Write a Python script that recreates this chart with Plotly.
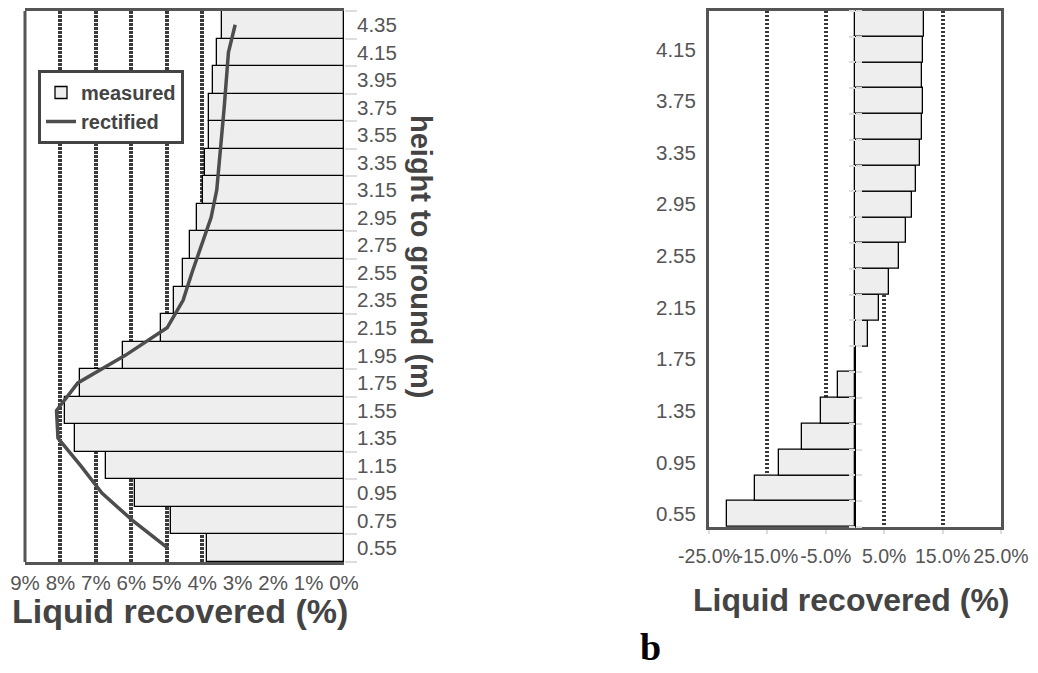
import plotly.graph_objects as go

# ---------------- data ----------------
heights = ["0.55", "0.75", "0.95", "1.15", "1.35", "1.55", "1.75", "1.95", "2.15", "2.35",
           "2.55", "2.75", "2.95", "3.15", "3.35", "3.55", "3.75", "3.95", "4.15", "4.35"]
measured = [3.87, 4.87, 5.91, 6.72, 7.59, 7.88, 7.44, 6.23, 5.17, 4.79,
            4.55, 4.35, 4.15, 3.98, 3.92, 3.82, 3.80, 3.70, 3.59, 3.44]
rectified = [4.97, 5.96, 6.83, 7.43, 8.07, 8.11, 7.51, 6.17, 4.99, 4.54,
             4.29, 4.01, 3.75, 3.59, 3.51, 3.45, 3.38, 3.32, 3.26, 3.07]
deviation = [-21.95, -17.2, -13.0, -9.16, -5.78, -2.86, 0.0, 2.29, 4.17, 5.9,
             7.5, 8.7, 9.8, 10.5, 11.1, 11.4, 11.6, 11.4, 11.6, 11.77]
left_ticks = [9, 8, 7, 6, 5, 4, 3, 2, 1, 0]
left_tick_text = ["9%", "8%", "7%", "6%", "5%", "4%", "3%", "2%", "1%", "0%"]
right_ticks = [-25, -15, -5, 5, 15, 25]
right_tick_text = ["-25.0%", "-15.0%", "-5.0%", "5.0%", "15.0%", "25.0%"]
right_height_labels = heights[::2]

# ---------------- style ----------------
W, H = 1038, 673
FONT = "Liberation Sans, Arial, sans-serif"
GRAY = "#444444"
TICK_GRAY = "#555555"
FRAME = "#555555"
BAR_FILL = "#eeeeee"
TICK_SIZE = 20.5

def px_x(v):
    return v / W

def px_y(v):
    return 1 - v / H

left_xdom = [px_x(25), px_x(344)]
left_ydom = [px_y(562), px_y(11)]
right_xdom = [px_x(709), px_x(1001)]
right_ydom = [px_y(527), px_y(10.7)]

fig = go.Figure()

fig.add_trace(go.Bar(
    x=measured, y=heights, orientation="h", name="measured",
    marker=dict(color=BAR_FILL, line=dict(color="black", width=1.3)),
    xaxis="x", yaxis="y",
))
fig.add_trace(go.Scatter(
    x=rectified, y=heights, mode="lines", name="rectified",
    line=dict(color="#4d4d4d", width=3.5),
    xaxis="x", yaxis="y",
))
fig.add_trace(go.Bar(
    x=deviation, y=heights, orientation="h", showlegend=False,
    marker=dict(color=BAR_FILL, line=dict(color="black", width=1.3)),
    xaxis="x2", yaxis="y2",
))
# invisible helpers so the tick-only axes at zero are drawn
fig.add_trace(go.Scatter(x=[0] * len(heights), y=heights, mode="markers",
                         marker=dict(opacity=0), showlegend=False, hoverinfo="skip",
                         xaxis="x2", yaxis="y3"))
fig.add_trace(go.Scatter(x=[0] * len(heights), y=heights, mode="markers",
                         marker=dict(opacity=0), showlegend=False, hoverinfo="skip",
                         xaxis="x2", yaxis="y4"))

grid = dict(showgrid=True, gridcolor="#3a3a3a", gridwidth=4, griddash="2.5px,1.5px")
zero_pos = right_xdom[0] + (right_xdom[1] - right_xdom[0]) * 0.5
cat_range = [-0.5, len(heights) - 0.5]

fig.update_layout(
    width=W, height=H,
    margin=dict(l=0, r=0, t=0, b=0),
    paper_bgcolor="white", plot_bgcolor="white",
    font=dict(family=FONT, color=TICK_GRAY, size=TICK_SIZE),
    bargap=0,
    showlegend=True,
    legend=dict(
        x=px_x(38), y=px_y(70), xanchor="left", yanchor="top",
        bgcolor="white", bordercolor=GRAY, borderwidth=3,
        font=dict(family=FONT, size=20, color=GRAY, weight="bold"),
        traceorder="normal", itemwidth=30, tracegroupgap=0,
    ),
    xaxis=dict(
        domain=left_xdom, anchor="y", range=[9, 0], tickvals=left_ticks,
        ticktext=left_tick_text, tickangle=0,
        ticks="", ticklabelstandoff=0,
        showline=True, mirror=True, linecolor=FRAME, linewidth=3,
        zeroline=False, tickfont=dict(size=TICK_SIZE, color=TICK_GRAY), automargin=False,
        **grid,
    ),
    yaxis=dict(
        domain=left_ydom, anchor="x", side="right", type="category",
        categoryarray=heights, range=cat_range, tickson="boundaries",
        ticks="outside", ticklen=12, tickcolor="#dddddd", tickwidth=2,
        ticklabelstandoff=12,
        showgrid=False, showline=False, zeroline=False,
        tickfont=dict(size=TICK_SIZE, color=TICK_GRAY), automargin=False,
    ),
    xaxis2=dict(
        domain=right_xdom, anchor="y2", range=[-25, 25], tickvals=right_ticks,
        ticktext=right_tick_text, tickangle=0, ticks="outside", ticklen=4,
        tickcolor="#dddddd", tickwidth=2, ticklabelstandoff=6,
        showline=True, mirror=True, linecolor=FRAME, linewidth=3,
        zeroline=True, zerolinecolor="black", zerolinewidth=2,
        tickfont=dict(size=TICK_SIZE - 1, color=TICK_GRAY), automargin=False,
        **grid,
    ),
    yaxis2=dict(
        domain=right_ydom, anchor="x2", side="left", type="category",
        categoryarray=heights, range=cat_range, tickvals=right_height_labels,
        ticks="", ticklabelstandoff=6,
        showgrid=False, showline=True, mirror=True, linecolor=FRAME, linewidth=3,
        zeroline=False, tickfont=dict(size=TICK_SIZE, color=TICK_GRAY), automargin=False,
    ),
    yaxis3=dict(
        overlaying="y2", anchor="free", position=zero_pos, side="left",
        type="category", categoryarray=heights, range=cat_range, tickson="boundaries",
        ticks="outside", ticklen=6, tickcolor="#dddddd", tickwidth=2,
        showticklabels=False, showgrid=False, showline=False, zeroline=False,
    ),
    yaxis4=dict(
        overlaying="y2", anchor="free", position=zero_pos, side="right",
        type="category", categoryarray=heights, range=cat_range, tickson="boundaries",
        ticks="outside", ticklen=6, tickcolor="#dddddd", tickwidth=2,
        showticklabels=False, showgrid=False, showline=False, zeroline=False,
    ),
    shapes=[
        dict(type="line", xref="x domain", yref="y domain", x0=0, x1=0, y0=0, y1=1,
             line=dict(color=FRAME, width=3), layer="above"),
    ],
    annotations=[
        dict(text="Liquid recovered (%)", xref="paper", yref="paper",
             x=px_x(180), y=px_y(611), xanchor="center", yanchor="middle", showarrow=False,
             font=dict(family=FONT, size=34, color=GRAY, weight="bold")),
        dict(text="Liquid recovered (%)", xref="paper", yref="paper",
             x=px_x(851), y=px_y(600), xanchor="center", yanchor="middle", showarrow=False,
             font=dict(family=FONT, size=32, color=GRAY, weight="bold")),
        dict(text="height to ground (m)", xref="paper", yref="paper",
             x=px_x(421), y=px_y(257), xanchor="center", yanchor="middle",
             showarrow=False, textangle=90,
             font=dict(family=FONT, size=29, color=GRAY, weight="bold")),
        dict(text="b", xref="paper", yref="paper",
             x=px_x(650), y=px_y(647), xanchor="center", yanchor="middle", showarrow=False,
             font=dict(family="Liberation Serif, Times New Roman, serif", size=38,
                       color="black", weight="bold")),
    ],
)

fig.write_html("out.html", config={"displayModeBar": False},
               post_script="document.body.style.margin='0';")
